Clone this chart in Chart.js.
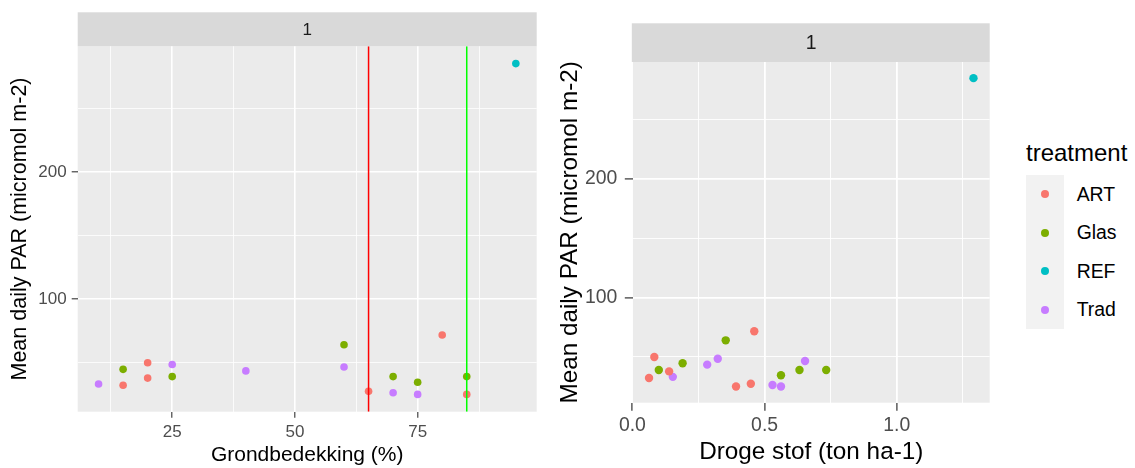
<!DOCTYPE html>
<html><head><meta charset="utf-8">
<script src="https://cdn.jsdelivr.net/npm/chart.js@4.4.1/dist/chart.umd.min.js"></script>
<style>
html,body{margin:0;padding:0;background:#fff;width:1135px;height:468px;overflow:hidden;font-family:"Liberation Sans",Arial,sans-serif;}
canvas{position:absolute;top:0;}
#c1{left:0}
#c2{left:545px}
#legend{position:absolute;left:1026px;top:141px;}
#legTitle{font-size:24px;line-height:24px;color:#000;white-space:nowrap;}
#legKeys{position:absolute;left:0;top:33.7px;width:38px;background:#F2F2F2;}
.key{position:relative;height:38.6px;}
.dot{position:absolute;left:15px;top:15.3px;width:8px;height:8px;border-radius:50%;}
.lab{position:absolute;left:50.7px;top:0;line-height:38.6px;font-size:19.4px;color:#000;white-space:nowrap;}
</style></head><body>
<canvas id="c1" width="545" height="468"></canvas>
<canvas id="c2" width="455" height="468"></canvas>
<div id="legend"><div id="legTitle">treatment</div><div id="legKeys"></div></div>
<script>
// ---- data ----
const treatments = ['ART', 'Glas', 'REF', 'Trad'];
const colors = ['#F8766D', '#7CAE00', '#00BFC4', '#C77CFF'];

const coverART = [15, 20, 20, 65, 80, 85];
const dmART    = [0.063, 0.083, 0.139, 0.448, 0.461, 0.392];
const parART   = [32.2, 49.9, 37.8, 27.4, 71.7, 25.0];

const coverGlas = [15, 25, 60, 70, 75, 85];
const dmGlas    = [0.19, 0.10, 0.353, 0.632, 0.562, 0.733];
const parGlas   = [44.7, 39.0, 64.0, 39.0, 34.5, 39.0];

const coverREF = [95];
const dmREF    = [1.29];
const parREF   = [285.2];

const coverTrad = [10, 25, 40, 60, 70, 75];
const dmTrad    = [0.153, 0.323, 0.283, 0.653, 0.53, 0.562];
const parTrad   = [33.2, 48.5, 43.5, 46.6, 26.3, 25.0];

const vlinePositions = [65, 85];
const vlineColors = ['#FF0000', '#00FF00'];

const leftXMajor = [25, 50, 75];
const leftXMinor = [12.5, 37.5, 62.5, 87.5];
const rightXMajor = [0, 0.5, 1.0];
const rightXMinor = [0.25, 0.75, 1.25];
const yMajor = [100, 200];
const yMinor = [50, 150, 250];

const stripLabel = '1';
const leftXTitle = 'Grondbedekking (%)';
const rightXTitle = 'Droge stof (ton ha-1)';
const yTitle = 'Mean daily PAR (micromol m-2)';

// ---- build ----
const covers = [coverART, coverGlas, coverREF, coverTrad];
const dms = [dmART, dmGlas, dmREF, dmTrad];
const pars = [parART, parGlas, parREF, parTrad];

const allPar = pars.flat();
const parMin = Math.min(...allPar), parMax = Math.max(...allPar);
const yPad = (parMax - parMin) * 0.05;
const yLim = [parMin - yPad - 0.6, parMax + yPad + 0.6];

function lim(arr) {
  const a = arr.flat(); const mn = Math.min(...a), mx = Math.max(...a);
  const p = (mx - mn) * 0.05; return [mn - p, mx + p];
}
const xLimL = lim(covers);
const xLimR = lim(dms);

Chart.defaults.font.family = '"Liberation Sans", Arial, sans-serif';
Chart.defaults.color = '#4D4D4D';

const panelPlugin = {
  id: 'panel',
  beforeDraw(chart, args, opts) {
    const {ctx, chartArea: {left, top, right, bottom}} = chart;
    ctx.save();
    ctx.fillStyle = '#EBEBEB';
    ctx.fillRect(left, top, right - left, bottom - top);
    ctx.fillStyle = '#D9D9D9';
    ctx.fillRect(left - opts.stripShift, opts.stripTop, right - left + opts.stripShift, top - opts.stripTop);
    ctx.fillStyle = '#1A1A1A';
    ctx.font = opts.fontSize + 'px "Liberation Sans", Arial, sans-serif';
    ctx.textAlign = 'center';
    ctx.textBaseline = 'middle';
    ctx.fillText(stripLabel, (left + right) / 2, (opts.stripTop + top) / 2 + 1);
    ctx.restore();
  }
};

function axisX(limits, major, minor, fmt, cfg) {
  const all = major.concat(minor).sort((a, b) => a - b);
  return {
    type: 'linear', position: 'bottom', min: limits[0], max: limits[1], bounds: 'data',
    afterBuildTicks: s => { s.ticks = all.map(v => ({value: v})); },
    afterFit: s => { s.height = cfg.h; },
    ticks: {
      autoSkip: false, maxRotation: 0, padding: cfg.pad, color: '#4D4D4D',
      font: {size: cfg.tick},
      callback: v => major.includes(v) ? fmt(v) : ''
    },
    grid: {
      color: '#FFFFFF',
      lineWidth: c => major.includes(c.tick.value) ? cfg.major : cfg.minor,
      tickColor: c => major.includes(c.tick.value) ? '#333333' : 'rgba(0,0,0,0)',
      tickLength: cfg.tl, tickWidth: cfg.tw, drawTicks: true
    },
    border: {display: false},
    title: {display: true, text: cfg.title, color: '#000', font: {size: cfg.tsize}, padding: {top: 0, bottom: cfg.tpad}}
  };
}
function axisY(cfg) {
  const all = yMajor.concat(yMinor).sort((a, b) => a - b);
  return {
    type: 'linear', position: 'left', min: yLim[0], max: yLim[1], bounds: 'data',
    afterBuildTicks: s => { s.ticks = all.map(v => ({value: v})); },
    afterFit: s => { s.width = cfg.w; },
    ticks: {
      autoSkip: false, padding: cfg.pad, color: '#4D4D4D', font: {size: cfg.tick},
      callback: v => yMajor.includes(v) ? String(v) : ''
    },
    grid: {
      color: '#FFFFFF',
      lineWidth: c => yMajor.includes(c.tick.value) ? cfg.major : cfg.minor,
      tickColor: c => yMajor.includes(c.tick.value) ? '#333333' : 'rgba(0,0,0,0)',
      tickLength: cfg.tl, tickWidth: cfg.tw, drawTicks: true
    },
    border: {display: false},
    title: {display: true, text: yTitle, color: '#000', font: {size: cfg.tsize}, padding: {top: cfg.tpad, bottom: 0}}
  };
}

function pointSets(xs, r) {
  return treatments.map((t, i) => ({
    type: 'scatter', label: t,
    data: xs[i].map((x, j) => ({x: x, y: pars[i][j]})),
    backgroundColor: colors[i], borderWidth: 0, pointRadius: r, pointHoverRadius: r
  }));
}

// Left chart
const vlineSets = vlinePositions.map((v, i) => ({
  type: 'line', label: 'v' + i,
  data: [{x: v, y: yLim[0]}, {x: v, y: yLim[1]}],
  borderColor: vlineColors[i], borderWidth: 1.5, pointRadius: 0, fill: false
}));

new Chart(document.getElementById('c1'), {
  type: 'scatter',
  data: {datasets: vlineSets.concat(pointSets(covers, 3.8))},
  options: {
    responsive: false, animation: false, devicePixelRatio: 1,
    layout: {padding: {top: 46.3, right: 8.3, bottom: 0, left: 0}},
    plugins: {legend: {display: false}, tooltip: {enabled: false},
      panel: {stripTop: 12.3, fontSize: 17, stripShift: 0}},
    scales: {
      x: axisX(xLimL, leftXMajor, leftXMinor, v => String(v),
        {h: 56.3, pad: 4, tick: 17, major: 1.6, minor: 0.8, tl: 6, tw: 1.1, title: leftXTitle, tsize: 21, tpad: 0}),
      y: axisY({w: 77.7, pad: 5, tick: 17, major: 1.6, minor: 0.8, tl: 6, tw: 1.1, tsize: 21.5, tpad: 7.2})
    }
  },
  plugins: [panelPlugin]
});

// Right chart
new Chart(document.getElementById('c2'), {
  type: 'scatter',
  data: {datasets: pointSets(dms, 4.2)},
  options: {
    responsive: false, animation: false, devicePixelRatio: 1,
    layout: {padding: {top: 62, right: 10.3, bottom: 0, left: 0}},
    plugins: {legend: {display: false}, tooltip: {enabled: false},
      panel: {stripTop: 23.3, fontSize: 19.4, stripShift: 1}},
    scales: {
      x: axisX(xLimR, rightXMajor, rightXMinor, v => v.toFixed(1),
        {h: 65.3, pad: 3, tick: 19.4, major: 1.8, minor: 0.9, tl: 8, tw: 1.2, title: rightXTitle, tsize: 24.3, tpad: 1.4}),
      y: axisY({w: 87.8, pad: 7.5, tick: 19.4, major: 1.8, minor: 0.9, tl: 8, tw: 1.2, tsize: 24.3, tpad: 10.4})
    }
  },
  plugins: [panelPlugin]
});

// Legend
const keys = document.getElementById('legKeys');
treatments.forEach((t, i) => {
  const k = document.createElement('div'); k.className = 'key';
  const d = document.createElement('div'); d.className = 'dot'; d.style.background = colors[i];
  const l = document.createElement('div'); l.className = 'lab'; l.textContent = t;
  k.appendChild(d); k.appendChild(l); keys.appendChild(k);
});
</script>
</body></html>
